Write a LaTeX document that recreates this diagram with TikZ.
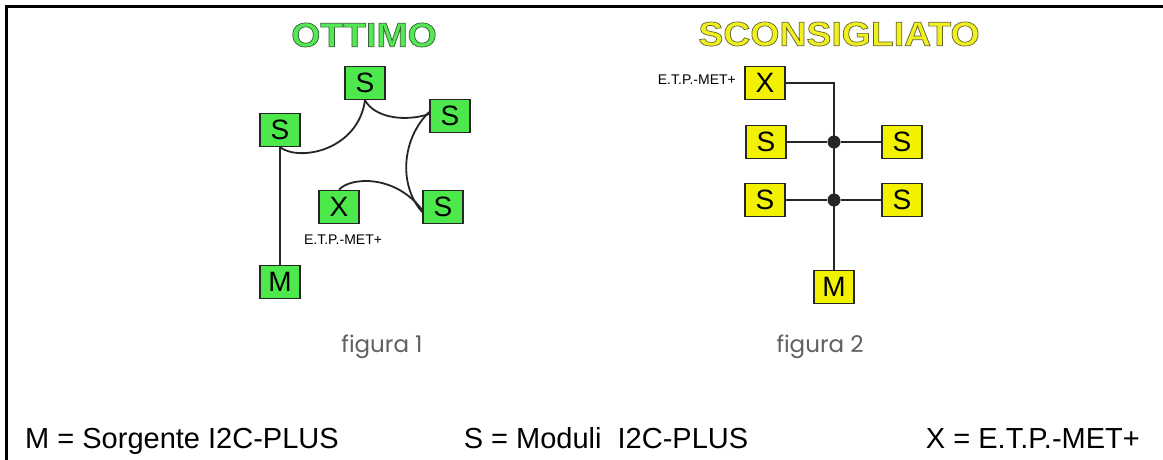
\documentclass[tikz,border=0pt]{standalone}
\usepackage{fontspec}
\usepackage{pdfrender}
\setmainfont{Liberation Sans}
\newfontfamily\figfont{Poppins}
\newfontfamily\heavyfont{Liberation Sans Bold}[FakeBold=2]
\definecolor{boxgreen}{HTML}{4CE84C}
\definecolor{boxyellow}{HTML}{F2F200}
\definecolor{figgray}{HTML}{606060}
\newcommand{\outlinetext}[3]{\special{pdf:bcolor [#1] [#2]}\textpdfrender{TextRenderingMode=FillStroke, LineWidth=2.2}{#3}\special{pdf:ecolor}}
\tikzset{
  gbox/.style={draw=black!85, line width=1.5pt, fill=boxgreen, minimum width=40pt, minimum height=33pt, inner sep=0pt, font=\fontsize{28}{28}\selectfont},
  ybox/.style={gbox, fill=boxyellow},
  wire/.style={draw=black!85, line width=1.8pt},
  small/.style={font=\fontsize{14}{14}\selectfont, inner sep=0pt},
  legend/.style={font=\fontsize{29}{29}\selectfont, inner sep=0pt},
  figlabel/.style={font=\figfont\fontsize{23}{23}\selectfont, text=figgray, inner sep=0pt},
  titlefont/.style={font=\heavyfont\fontsize{34}{34}\selectfont, inner sep=0pt, xscale=1.1},
  junction/.style={circle, fill=black!85, minimum size=13pt, inner sep=0pt},
}
\begin{document}
\begin{tikzpicture}[x=1pt,y=-1pt]
\useasboundingbox (0,0) rectangle (1163,459);
\fill[white] (0,0) rectangle (1163,459);
% frame
\draw[line width=3pt, line cap=rect] (6,459) -- (6,6) -- (1163,6);

% titles
\node[titlefont] (t1) at (364,35) {\outlinetext{0.333 0.91 0.333}{0.2 0.38 0.2}{OTTIMO}};
\node[titlefont] (t2) at (839,34) {\outlinetext{0.94 0.94 0.13}{0.4 0.4 0.18}{SCONSIGLIATO}};

% figure 1
\node[gbox] (a1) at (365,83) {S};
\node[gbox] (a2) at (450,116) {S};
\node[gbox] (a3) at (280,130) {S};
\node[gbox] (ax) at (339,207) {X};
\node[gbox] (a4) at (443,207) {S};
\node[gbox] (am) at (280,282) {M};
\node[small] (alab) at (343,240) {E.T.P.-MET+};

\draw[wire] (a3.south) -- (am.north);
\draw[wire] (a3.south) .. controls (300,162) and (358,150) .. (a1.south);
\draw[wire] (a1.south) .. controls (375,118) and (405,122) .. ([yshift=2pt]a2.west);
\draw[wire] ([yshift=4pt]a2.west) .. controls (402,138) and (398,185) .. ([yshift=-5pt]a4.west);
\draw[wire] (ax.north) .. controls (350,177) and (395,174) .. ([yshift=-3pt]a4.west);

% figure 2
\node[ybox] (bx) at (765,83) {X};
\node[small, anchor=east] (blab) at (736,80) {E.T.P.-MET+};
\node[ybox] (bl1) at (766,142) {S};
\node[ybox] (br1) at (902,142) {S};
\node[ybox] (bl2) at (765,200) {S};
\node[ybox] (br2) at (902,200) {S};
\node[ybox] (bm) at (834,287) {M};
\node[junction] (j1) at (834,142) {};
\node[junction] (j2) at (834,200) {};

\draw[wire] (bx.east) -| (bm.north);
\draw[wire] (bl1.east) -- (j1) -- (br1.west);
\draw[wire] (bl2.east) -- (j2) -- (br2.west);

% figure labels
\node[figlabel] (f1) at (382,347) {figura 1};
\node[figlabel] (f2) at (820,347) {figura 2};

% legend
\node[legend, anchor=base west] (l1) at (25,448) {M = Sorgente I2C-PLUS};
\node[legend, anchor=base] (l2) at (606,448) {S = Moduli\ \ I2C-PLUS};
\node[legend, anchor=base east] (l3) at (1140,448) {X = E.T.P.-MET+};
\end{tikzpicture}
\end{document}
